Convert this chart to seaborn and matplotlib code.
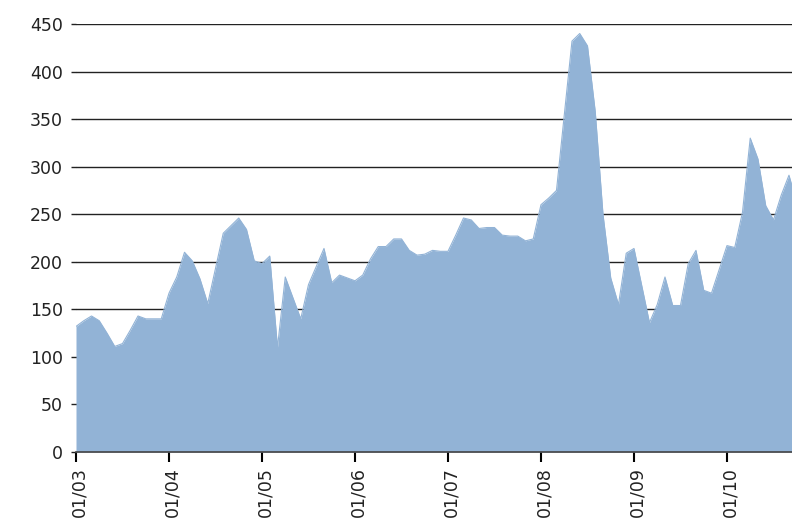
import numpy as np
import pandas as pd
import matplotlib
matplotlib.use("Agg")
import matplotlib.pyplot as plt
import matplotlib.transforms as mtransforms
import seaborn as sns

# -----------------------------
# Data (monthly, from 01/2003)
# -----------------------------
values = [
    132, 138, 143, 138, 125, 111, 114, 128, 143, 140, 140, 140,   # 2003
    167, 184, 210, 201, 182, 156, 193, 230, 238, 246, 234, 201,   # 2004
    198, 206, 110, 184, 162, 140, 176, 195, 214, 178, 186, 183,   # 2005
    180, 186, 203, 216, 216, 224, 224, 212, 207, 208, 212, 211,   # 2006
    211, 228, 246, 244, 235, 236, 236, 228, 227, 227, 222, 224,   # 2007
    260, 267, 275, 354, 432, 440, 427, 358, 250, 183, 155, 209,   # 2008
    214, 175, 136, 155, 184, 154, 154, 198, 212, 170, 167, 192,   # 2009
    217, 215, 252, 330, 308, 259, 244, 270, 291, 262,             # 2010
]
months = pd.date_range("2003-01-01", periods=len(values), freq="MS")
y_ticks = list(range(0, 451, 50))

df = pd.DataFrame({"idx": np.arange(len(values)), "value": values})
year_starts = df["idx"][months.month == 1]
year_labels = months[months.month == 1].strftime("%m/%y")

fill = "#92b3d6"

# -----------------------------
# Plot
# -----------------------------
sns.set_theme(style="white")
plt.rcParams["font.family"] = ["DejaVu Sans"]

fig = plt.figure(figsize=(7.92, 5.24), dpi=100)
ax = fig.add_axes([76 / 792, 1 - 452 / 524, 1 - 76 / 792, (452 - 24) / 524])

ax.fill_between(df["idx"], df["value"], color=fill, lw=0, zorder=2)
sns.lineplot(data=df, x="idx", y="value", color=fill, lw=0.8, ax=ax, zorder=2)

ax.set_xlim(0, 92.39)
ax.set_ylim(0, 450)
ax.set_yticks(y_ticks)
ax.set_xticks(year_starts)
ax.set_xticklabels(year_labels)
ax.set_xlabel("")
ax.set_ylabel("")

ax.yaxis.grid(True, color="#222222", lw=1)
ax.set_axisbelow(True)

for side in ["left", "top", "right"]:
    ax.spines[side].set_visible(False)
ax.spines["bottom"].set_color("#444444")
ax.spines["bottom"].set_linewidth(1.2)
ax.spines["bottom"].set_zorder(3)

ax.tick_params(axis="y", left=True, length=3.5, width=1, color="#222222",
               pad=6, labelsize=12.5, labelcolor="#222222")
ax.tick_params(axis="x", bottom=True, length=7, width=1.5, color="black",
               pad=4, labelsize=12.5, labelcolor="#222222", labelrotation=90)

# nudge rotated year labels slightly right, as in the reference
shift = mtransforms.ScaledTranslation(3 / 100, 0, fig.dpi_scale_trans)
for lbl in ax.get_xticklabels():
    lbl.set_transform(lbl.get_transform() + shift)

fig.savefig("out.png", dpi=100)
plt.close(fig)
